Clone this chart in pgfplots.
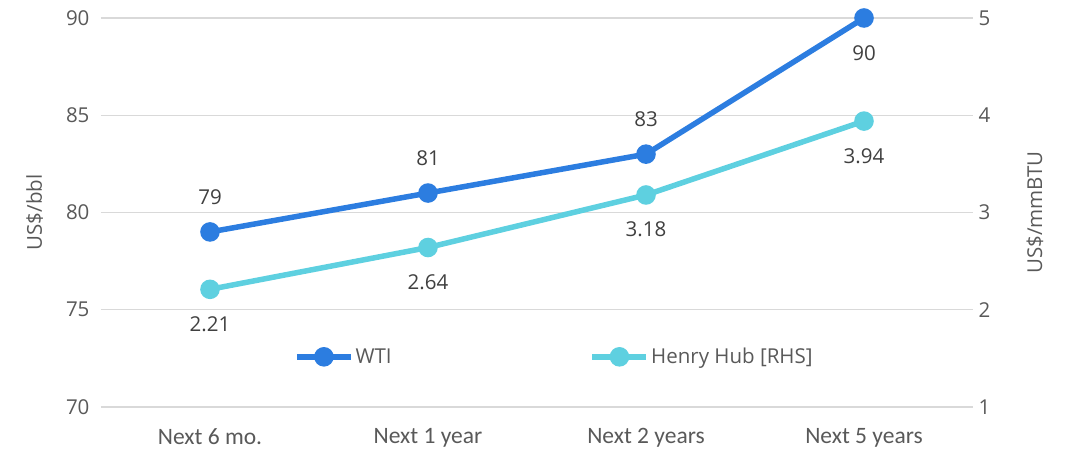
\documentclass[border=0pt]{standalone}
\usepackage{pgfplots}
\pgfplotsset{compat=1.18}
\usepackage{fontspec}
\setmainfont{Open Sans}
\newfontfamily\carl{Carlito}
\definecolor{wti}{RGB}{44,125,224}
\definecolor{hh}{RGB}{94,208,224}
\definecolor{txt}{RGB}{89,89,89}
\definecolor{lbl}{RGB}{64,64,64}
\definecolor{grid}{RGB}{217,217,217}
\begin{document}
\begin{tikzpicture}
\path[use as bounding box] (-101pt,-42pt) rectangle (965pt,407pt);
\pgfplotsset{
  base/.style={
    scale only axis, width=872pt, height=389pt,
    at={(0,0)}, anchor=south west,
    xmin=-0.5, xmax=3.5,
    font=\fontsize{20.5}{24}\selectfont\color{txt},
    /pgf/number format/assume math mode=true,
    major tick length=0pt, minor tick length=0pt,
    tick style={draw=none},
    xmajorgrids=false, xminorgrids=false,
    axis line style={draw=none},
    legend image code/.code={\draw[mark repeat=2,mark phase=2,#1] plot coordinates {(0pt,0pt) (27pt,0pt) (54pt,0pt)};},
  }
}
\begin{axis}[base,
  axis x line*=bottom, axis y line*=left,
  ymin=70, ymax=90, ytick={70,75,80,85,90},
  ymajorgrids, major y grid style={grid, line width=1.2pt},
  xtick={0,1,2,3},
  xticklabels={Next 6 mo., Next 1 year, Next 2 years, Next 5 years},
  xticklabel style={font=\carl\fontsize{23.5}{27}\selectfont\color{txt}, yshift=-18pt},
  yticklabel style={xshift=-8pt},
  ylabel={US\$/bbl},
  ylabel style={at={(axis description cs:-0.076,0.5)}, anchor=center},
]
\addplot[wti, line width=5.5pt, mark=*, mark size=7pt, mark options={solid},
  nodes near coords, nodes near coords align={above}, point meta=explicit symbolic,
  every node near coord/.append style={font=\fontsize{20.5}{24}\selectfont, text=lbl, yshift=21pt}]
  coordinates {(0,79) [79] (1,81) [81] (2,83) [83] (3,90) [\relax]};
\addplot[draw=none, forget plot, nodes near coords, nodes near coords align={below}, point meta=explicit symbolic,
  every node near coord/.append style={font=\fontsize{20.5}{24}\selectfont, text=lbl, yshift=-24pt}]
  coordinates {(3,90) [90]};
\end{axis}
\begin{axis}[base,
  ymin=1, ymax=5, ytick={1,2,3,4,5},
  axis y line*=right, hide x axis,
  yticklabel style={xshift=2pt},
  ylabel={US\$/mmBTU},
  ylabel style={at={(axis description cs:1.071,0.5)}, anchor=center},
  legend style={at={(axis description cs:0.2213,0.129)}, anchor=west, draw=none, fill=none,
    inner sep=0pt,
    legend columns=2, font=\fontsize{20.5}{24}\selectfont\color{txt},
    /tikz/every even column/.append style={column sep=196pt},
    legend cell align=left},
]
\addlegendimage{wti, line width=5.5pt, mark=*, mark size=7pt, mark options={solid}}
\addlegendentry{WTI}
\addplot[hh, line width=5.5pt, mark=*, mark size=7pt, mark options={solid},
  nodes near coords, nodes near coords align={below}, point meta=explicit symbolic,
  every node near coord/.append style={font=\fontsize{20.5}{24}\selectfont, text=lbl, yshift=-21pt}]
  coordinates {(0,2.21) [2.21] (1,2.64) [2.64] (2,3.18) [3.18] (3,3.94) [3.94]};
\addlegendentry{Henry Hub [RHS]}
\end{axis}
\end{tikzpicture}
\end{document}
